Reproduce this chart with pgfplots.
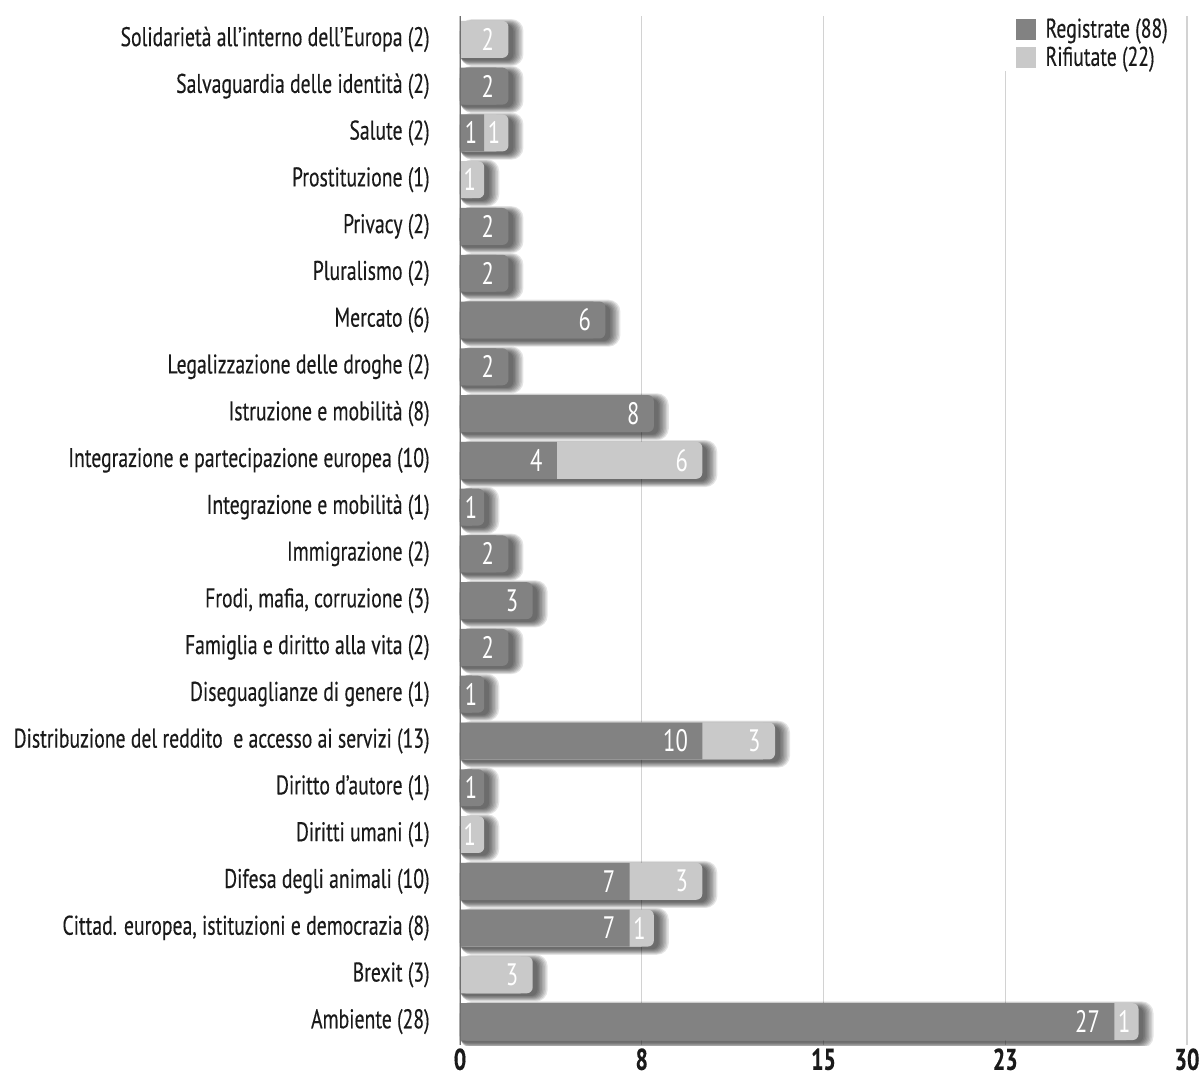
\documentclass[border=0pt]{standalone}
\usepackage{fontspec}
\setmainfont{PT Sans}[FakeStretch=0.73, FakeBold=0.3]
\newfontfamily\valfam{PT Sans}[FakeStretch=0.73]
\usepackage{pgfplots}
\pgfplotsset{compat=1.18}
\usepackage{pgfplotstable}

\definecolor{regcol}{HTML}{828282}
\definecolor{rifcol}{HTML}{C9C9C9}
\definecolor{gridcol}{HTML}{D2D2D2}
\definecolor{axiscol}{HTML}{6E6E6E}
\definecolor{txtcol}{HTML}{1A1A1A}

\newcommand\lblfont{\fontsize{13.5}{15}\selectfont}
\newcommand\ticfont{\fontsize{15}{17}\selectfont\bfseries}
\newcommand\valfont{\fontsize{15.5}{17}\selectfont\valfam}

% petitions per topic: registered (reg) and refused (rif); row 0 = bottom
\pgfplotstableread{
row reg rif
0 27 1
1 0 3
2 7 1
3 7 3
4 0 1
5 1 0
6 10 3
7 1 0
8 2 0
9 3 0
10 2 0
11 1 0
12 4 6
13 8 0
14 2 0
15 6 0
16 2 0
17 2 0
18 0 1
19 1 1
20 2 0
21 0 2
}\petizioni

% one soft layer of the drop shadow: #1 extra length, #2 thickness, #3 corner radius
\newcommand\shadowlayer[3]{%
  \addplot[forget plot, xbar, draw=none, fill=black, fill opacity=0.1,
    bar width=#2, bar shift=-1.6pt, rounded corners=#3]
    table[y=row, x expr={\thisrow{reg}+\thisrow{rif}+#1}] {\petizioni};
}

\begin{document}
\begin{tikzpicture}
\useasboundingbox (0,0) rectangle (600pt,538.5pt);
\begin{axis}[
  at={(230pt,16pt)}, anchor=south west,
  scale only axis, width=363.5pt, height=514.5pt,
  xmin=0, xmax=30, ymin=-0.5, ymax=21.5,
  axis line style={draw=none},
  tick style={draw=none}, major tick length=0pt,
  xtick={0,7.5,15,22.5,30}, xticklabels={0,8,15,23,30},
  ytick={0,...,21},
  yticklabels={
    Ambiente (28),
    Brexit (3),
    {Cittad. europea, istituzioni e democrazia (8)},
    Difesa degli animali (10),
    Diritti umani (1),
    Diritto d’autore (1),
    Distribuzione del reddito\ \ e accesso ai servizi (13),
    Diseguaglianze di genere (1),
    Famiglia e diritto alla vita (2),
    {Frodi, mafia, corruzione (3)},
    Immigrazione (2),
    Integrazione e mobilità (1),
    Integrazione e partecipazione europea (10),
    Istruzione e mobilità (8),
    Legalizzazione delle droghe (2),
    Mercato (6),
    Pluralismo (2),
    Privacy (2),
    Prostituzione (1),
    Salute (2),
    Salvaguardia delle identità (2),
    Solidarietà all’interno dell’Europa (2)},
  xmajorgrids, major grid style={draw=gridcol, line width=0.6pt},
  x tick label style={font=\ticfont, text=txtcol, inner sep=0pt, yshift=-1.5pt},
  y tick label style={font=\lblfont, text=txtcol, inner sep=0pt, xshift=-15pt},
  legend image code/.code={\fill[#1, draw=none] (0pt,-5.2pt) rectangle (10pt,5.2pt);},
  legend cell align=left,
  legend style={at={(axis cs:22.25,21.5)}, anchor=north west, draw=none, fill=white,
    inner xsep=8pt, inner ysep=0pt, row sep=1pt, font=\lblfont, text=txtcol,
    nodes={inner sep=1pt},
    /tikz/every odd column/.append style={column sep=4pt}},
]
% drop shadow, several translucent layers
\shadowlayer{0.62}{23.5pt}{6pt}
\shadowlayer{0.56}{22.7pt}{5.6pt}
\shadowlayer{0.50}{21.9pt}{5.2pt}
\shadowlayer{0.44}{21.1pt}{4.8pt}
\shadowlayer{0.38}{20.3pt}{4.4pt}
\shadowlayer{0.32}{19.5pt}{4pt}
\shadowlayer{0.26}{18.7pt}{3.6pt}
\shadowlayer{0.20}{17.9pt}{3.2pt}

% outer segment with rounded end: refused where present, else registered
\addplot[forget plot, xbar, bar width=0.79, draw=none, fill=rifcol, rounded corners=3pt]
  table[y=row, x expr={\thisrow{rif}>0 ? \thisrow{reg}+\thisrow{rif} : nan}] {\petizioni};
\addplot[forget plot, xbar, bar width=0.79, draw=none, fill=rifcol]
  table[y=row, x expr={\thisrow{rif}>0 ? \thisrow{reg}+\thisrow{rif}-0.5 : nan}] {\petizioni};
\addplot[forget plot, xbar, bar width=0.79, draw=none, fill=regcol, rounded corners=3pt]
  table[y=row, x expr={\thisrow{rif}>0 ? nan : \thisrow{reg}}] {\petizioni};
\addplot[forget plot, xbar, bar width=0.79, draw=none, fill=regcol]
  table[y=row, x expr={\thisrow{rif}>0 ? nan : \thisrow{reg}-0.5}] {\petizioni};
% registered segment in front of a refused one
\addplot[forget plot, xbar, bar width=0.79, draw=none, fill=regcol]
  table[y=row, x expr={\thisrow{rif}*\thisrow{reg}>0 ? \thisrow{reg} : nan}] {\petizioni};

% value labels
\addplot[forget plot, only marks, mark=none, point meta=explicit,
  nodes near coords={\pgfmathprintnumber[assume math mode=true]{\pgfplotspointmeta}},
  nodes near coords style={anchor=east, inner sep=0pt, text=white, font=\valfont}]
  table[y=row, meta=reg,
    x expr={\thisrow{reg}>0 ? \thisrow{reg}-(\thisrow{reg}<1.5 ? 0.27 : 0.58) : nan}] {\petizioni};
\addplot[forget plot, only marks, mark=none, point meta=explicit,
  nodes near coords={\pgfmathprintnumber[assume math mode=true]{\pgfplotspointmeta}},
  nodes near coords style={anchor=east, inner sep=0pt, text=white, font=\valfont}]
  table[y=row, meta=rif,
    x expr={\thisrow{rif}>0 ? \thisrow{reg}+\thisrow{rif}-(\thisrow{rif}<1.5 ? 0.32 : 0.58) : nan}] {\petizioni};

\draw[axiscol, line width=0.75pt] (axis cs:0,-0.5) -- (axis cs:0,21.5);

\addlegendimage{fill=regcol}
\addlegendentry{Registrate (88)}
\addlegendimage{fill=rifcol}
\addlegendentry{Rifiutate (22)}
\end{axis}
\end{tikzpicture}
\end{document}
